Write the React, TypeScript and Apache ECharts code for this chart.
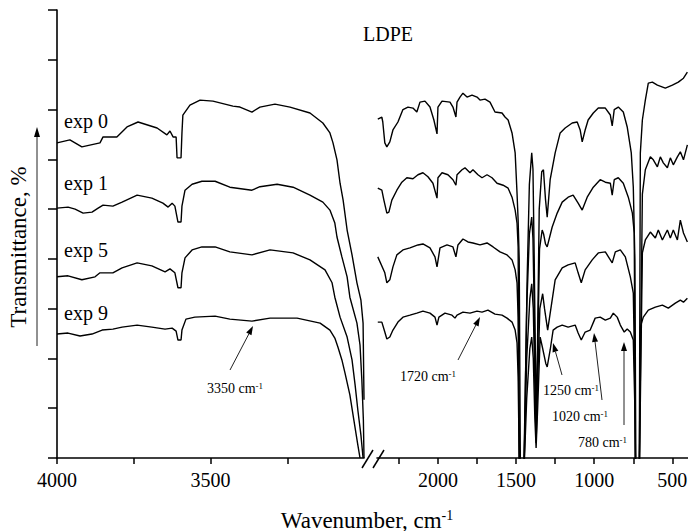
import React, { useEffect, useRef } from "react";
import * as echarts from "echarts";

// ---- data (wavenumber cm^-1, transmittance in tick units of 10) ----
const seriesNames = ["exp 0", "exp 1", "exp 5", "exp 9"];

const exp0Left = [
  [4000, 63.3], [3958, 63.9], [3919, 62.5], [3860, 63.3], [3850, 64.5], [3805, 64.5], [3772, 66.5], [3736, 67.5],
  [3674, 66.3], [3642, 64.9], [3632, 65.7], [3622, 64.5], [3612, 64.5], [3609, 60.3], [3596, 60.3], [3593, 65.3],
  [3590, 68.9], [3567, 70.9], [3534, 71.9], [3492, 71.7], [3427, 70.7], [3404, 70.5], [3365, 69.5], [3339, 70.5],
  [3290, 71.1], [3241, 70.5], [3176, 69.3], [3134, 67.3], [3111, 65.3], [3101, 63.3], [3088, 59.9], [3078, 55.2],
  [3068, 51.8], [3055, 45.8], [3039, 40.8], [3023, 35.2], [3010, 31.7], [3003, 27.1], [3000, 11.7],
];
const exp1Left = [
  [4000, 50.2], [3964, 50.4], [3941, 50.0], [3915, 49.2], [3886, 49.4], [3866, 50.2], [3850, 50.8], [3818, 50.6],
  [3788, 51.4], [3739, 52.8], [3691, 52.2], [3655, 51.2], [3638, 50.4], [3625, 51.2], [3616, 50.6], [3606, 47.4],
  [3596, 47.4], [3593, 50.6], [3583, 53.8], [3560, 55.0], [3528, 55.6], [3485, 55.6], [3437, 54.4], [3365, 53.8],
  [3339, 54.5], [3283, 55.0], [3231, 54.4], [3176, 52.8], [3134, 51.4], [3111, 49.8], [3095, 47.2], [3088, 44.4],
  [3072, 40.4], [3055, 36.4], [3046, 32.3], [3023, 27.1], [3013, 22.7], [3007, 15.7], [3002, 7.6], [3000, 0],
];
const exp5Left = [
  [4000, 36.4], [3964, 36.6], [3919, 35.8], [3876, 36.4], [3860, 37.2], [3818, 37.2], [3788, 38.2], [3739, 39.2],
  [3691, 38.6], [3648, 37.4], [3632, 38.0], [3616, 37.2], [3606, 34.2], [3596, 34.2], [3593, 37.2], [3583, 40.2],
  [3560, 41.8], [3528, 42.4], [3485, 42.4], [3437, 41.4], [3365, 40.8], [3306, 41.8], [3231, 41.2], [3176, 39.8],
  [3127, 37.8], [3104, 35.2], [3095, 32.3], [3078, 28.3], [3055, 24.3], [3039, 19.7], [3029, 14.7], [3020, 9.6],
  [3010, 4.6], [3003, 0],
];
const exp9Left = [
  [4000, 24.9], [3964, 25.1], [3925, 24.5], [3886, 24.9], [3853, 25.7], [3818, 25.9], [3788, 26.3], [3739, 26.7],
  [3691, 26.3], [3648, 25.9], [3625, 26.1], [3612, 25.5], [3606, 23.7], [3596, 23.7], [3593, 25.7], [3580, 27.9],
  [3551, 28.3], [3485, 28.5], [3437, 27.9], [3365, 27.5], [3306, 28.1], [3218, 28.1], [3143, 27.1], [3111, 25.7],
  [3095, 24.1], [3085, 22.3], [3072, 19.7], [3062, 17.1], [3046, 12.7], [3033, 7.6], [3020, 2.6], [3013, 0],
];

const exp0Right = [
  [2385, 68.1], [2359, 68.5], [2353, 67.5], [2340, 63.3], [2327, 62.5], [2308, 63.5], [2288, 65.9], [2256, 67.5],
  [2224, 70.0], [2192, 70.5], [2160, 70.3], [2135, 69.5], [2115, 71.5], [2083, 71.7], [2051, 70.5], [2026, 67.9],
  [2006, 65.1], [2000, 70.5], [1974, 71.7], [1923, 71.5], [1904, 70.5], [1885, 68.5], [1878, 71.5], [1859, 72.5],
  [1840, 73.3], [1814, 72.5], [1782, 72.9], [1750, 72.5], [1731, 71.9], [1699, 72.1], [1667, 71.5], [1635, 69.5],
  [1590, 69.3], [1571, 68.5], [1551, 67.9], [1526, 65.3], [1506, 61.3], [1494, 53.2], [1487, 47.8], [1480, 39.8],
  [1472, -5], [1450, -5], [1430, 35], [1415, 55], [1400, 61.3], [1392, 58], [1384, 40], [1372, 8], [1364, 20],
  [1352, 50], [1336, 57.5], [1325, 57.9], [1312, 52], [1301, 48.4], [1282, 55.9], [1250, 61.3], [1218, 65.3],
  [1186, 66.3], [1141, 67.3], [1109, 67.5], [1090, 65.9], [1077, 63.5], [1058, 65.9], [1039, 67.9], [1006, 69.3],
  [974, 70.3], [929, 70.3], [897, 68.9], [885, 66.7], [872, 70.0], [846, 70.5], [814, 69.5], [789, 66.5],
  [763, 61.3], [750, 54.4], [740, 40], [733, -5], [712, -5], [705, 61.3], [692, 67.9], [673, 71.9], [654, 75.3],
  [628, 75.5], [596, 74.9], [545, 74.3], [500, 74.9], [462, 75.5], [429, 76.3], [404, 77.5],
];
const exp1Right = [
  [2385, 54.2], [2359, 53.8], [2346, 51.8], [2327, 49.2], [2314, 49.4], [2295, 51.8], [2263, 53.8], [2231, 55.4],
  [2199, 56.3], [2160, 56.1], [2128, 56.9], [2096, 57.3], [2064, 56.5], [2032, 55.2], [2006, 52.2], [2000, 56.3],
  [1974, 57.3], [1936, 56.9], [1904, 55.9], [1885, 54.8], [1878, 56.9], [1846, 57.9], [1827, 58.3], [1795, 57.3],
  [1776, 57.9], [1744, 56.9], [1718, 56.3], [1686, 56.9], [1654, 56.3], [1622, 55.2], [1583, 54.8], [1551, 54.2],
  [1526, 52.4], [1506, 49.8], [1494, 47.2], [1487, 42.4], [1478, -5], [1452, -5], [1432, 30], [1415, 45],
  [1400, 48.4], [1392, 44], [1384, 30], [1372, 5], [1364, 18], [1350, 42], [1333, 45.8], [1324, 45], [1312, 43],
  [1301, 42.4], [1269, 46.4], [1237, 49.2], [1205, 51.4], [1167, 52.4], [1135, 52.8], [1103, 51.2], [1077, 49.8],
  [1045, 52.4], [1006, 54.4], [962, 55.9], [929, 55.4], [897, 55.2], [885, 52.8], [872, 55.9], [846, 56.3],
  [814, 55.2], [782, 52.4], [756, 49.2], [744, 45.2], [736, -5], [712, -5], [692, 53.0], [673, 57.9], [641, 60.5],
  [622, 59.9], [596, 58.5], [577, 60.5], [558, 59.3], [532, 58.3], [513, 60.3], [494, 58.9], [468, 60.5],
  [449, 61.5], [429, 59.9], [404, 62.9],
];
const exp5Right = [
  [2385, 40.4], [2340, 37.2], [2327, 35.2], [2308, 35.8], [2288, 38.4], [2263, 40.8], [2224, 41.8], [2179, 42.2],
  [2128, 42.8], [2096, 43.0], [2051, 42.2], [2019, 40.4], [2006, 38.4], [1987, 42.2], [1942, 42.8], [1904, 42.4],
  [1885, 40.4], [1872, 42.8], [1840, 44.0], [1808, 43.4], [1776, 43.2], [1731, 42.8], [1686, 43.2], [1647, 42.4],
  [1603, 41.4], [1558, 40.8], [1526, 39.8], [1506, 37.8], [1494, 35.2], [1487, 28.3], [1478, -5], [1452, -5],
  [1432, 20], [1412, 32], [1400, 35], [1390, 30], [1380, 15], [1372, 3], [1362, 15], [1348, 30], [1330, 33],
  [1318, 30], [1298, 25.7], [1250, 35.8], [1205, 38.2], [1167, 38.8], [1122, 39.2], [1103, 37.2], [1083, 35.2],
  [1058, 37.8], [1013, 39.8], [974, 41.2], [929, 41.4], [885, 39.2], [865, 41.4], [833, 41.8], [801, 40.4],
  [769, 36.4], [750, 33.1], [740, 15], [735, -5], [712, -5], [692, 41.2], [673, 43.8], [641, 45.4], [609, 44.2],
  [590, 45.8], [564, 43.8], [532, 45.8], [513, 44.2], [494, 45.8], [468, 43.8], [449, 47.8], [429, 45.2], [404, 43.4],
];
const exp9Right = [
  [2385, 27.3], [2359, 27.3], [2340, 25.3], [2327, 23.9], [2308, 24.3], [2288, 25.7], [2256, 27.3], [2224, 28.3],
  [2179, 28.7], [2135, 29.1], [2096, 29.5], [2051, 29.1], [2019, 28.3], [2006, 26.7], [1994, 28.3], [1955, 29.1],
  [1910, 28.7], [1891, 28.1], [1878, 28.7], [1840, 29.3], [1795, 29.1], [1750, 29.5], [1718, 29.3], [1680, 29.7],
  [1635, 28.9], [1590, 28.7], [1558, 28.1], [1526, 27.3], [1506, 25.7], [1494, 23.1], [1487, 16.3], [1478, -5],
  [1452, -5], [1432, 12], [1412, 22], [1400, 24.3], [1390, 20], [1380, 8], [1372, 2], [1362, 10], [1346, 24.3],
  [1330, 22], [1310, 19], [1301, 18.3], [1282, 21.7], [1263, 25.7], [1237, 26.3], [1205, 26.7], [1167, 26.3],
  [1122, 26.7], [1103, 25.1], [1083, 23.7], [1058, 25.3], [1026, 25.7], [994, 28.1], [962, 28.3], [929, 27.7],
  [897, 28.1], [878, 29.1], [853, 28.3], [833, 26.7], [808, 25.3], [789, 25.9], [769, 25.3], [750, 23.7],
  [740, 10], [735, -5], [712, -5], [705, 26.3], [686, 28.3], [654, 29.7], [609, 30.3], [564, 30.7], [526, 30.1],
  [481, 31.1], [449, 31.7], [429, 31.3], [404, 32.1],
];

const leftLabelTicks = [4000, 3500];
const leftAllTicks = [4000, 3750, 3500, 3250];
const rightLabelTicks = [2000, 1500, 1000, 500];
const rightAllTicks = [2250, 2000, 1750, 1500, 1250, 1000, 750, 500];
const bandNames = ["3350", "1720", "1250", "1020", "780"];

// ---- layout (pixels) ----
const FONT = '"Liberation Serif", "Times New Roman", serif';
const PLOT_H = 448;
const bandLayout = [
  { tx: 207, ty: 388, ax1: 230, ay1: 370, ax2: 253, ay2: 326 },
  { tx: 400, ty: 376, ax1: 458, ay1: 360, ax2: 480, ay2: 317 },
  { tx: 543, ty: 390, ax1: 562, ay1: 375, ax2: 553, ay2: 343 },
  { tx: 552, ty: 416, ax1: 602, ay1: 400, ax2: 594, ay2: 333 },
  { tx: 578, ty: 442, ax1: 624, ay1: 425, ax2: 624, ay2: 342 },
];
const expLabelY = [121, 183, 250, 313];

function arrow(x1: number, y1: number, x2: number, y2: number, len = 9, hw = 3, lw = 1) {
  const dx = x2 - x1, dy = y2 - y1;
  const L = Math.hypot(dx, dy);
  const ux = dx / L, uy = dy / L;
  const bx = x2 - ux * len, by = y2 - uy * len;
  return [
    { type: "line", shape: { x1, y1, x2: bx, y2: by }, style: { stroke: "#222", lineWidth: lw } },
    {
      type: "polygon",
      shape: { points: [[x2, y2], [bx - uy * hw, by + ux * hw], [bx + uy * hw, by - ux * hw]] },
      style: { fill: "#000" },
    },
  ];
}

export default function App() {
  const ref = useRef<HTMLDivElement>(null);
  useEffect(() => {
    if (!ref.current) return;
    const chart = echarts.init(ref.current, undefined, { renderer: "svg" });
    const lefts = [exp0Left, exp1Left, exp5Left, exp9Left];
    const rights = [exp0Right, exp1Right, exp5Right, exp9Right];
    const lineStyle = { color: "#000", width: 1.4 };
    const series: any[] = [];
    seriesNames.forEach((n, i) => {
      series.push({ name: n, type: "line", xAxisIndex: 0, yAxisIndex: 0, data: lefts[i], showSymbol: false, lineStyle, clip: true, silent: true });
      series.push({ name: n, type: "line", xAxisIndex: 1, yAxisIndex: 1, data: rights[i], showSymbol: false, lineStyle, clip: true, silent: true });
    });
    const axisText = { fontSize: 20, fontFamily: FONT, color: "#000", margin: 12, formatter: (v: number) => String(v) };
    const graphic: any[] = [];
    graphic.push({ type: "text", x: 388, y: 34, style: { text: "LDPE", fontSize: 20, fontFamily: FONT, fill: "#000", align: "center", verticalAlign: "middle" } });
    seriesNames.forEach((n, i) => {
      graphic.push({ type: "text", x: 64, y: expLabelY[i], style: { text: n, fontSize: 20, fontFamily: FONT, fill: "#000", align: "left", verticalAlign: "middle" } });
    });
    bandNames.forEach((b, i) => {
      const l = bandLayout[i];
      graphic.push({
        type: "text", x: l.tx, y: l.ty,
        style: {
          text: `{a|${b} cm}{s|-1}`, align: "left", verticalAlign: "middle", fill: "#000",
          rich: { a: { fontSize: 14, fontFamily: FONT, fill: "#000" }, s: { fontSize: 9, fontFamily: FONT, fill: "#000", verticalAlign: "top" } },
        },
      });
      graphic.push(...arrow(l.ax1, l.ay1, l.ax2, l.ay2));
    });
    // axis names
    graphic.push({
      type: "text", x: 367, y: 520,
      style: {
        text: "{a|Wavenumber, cm}{s|-1}", align: "center", verticalAlign: "middle", fill: "#000",
        rich: { a: { fontSize: 23, fontFamily: FONT, fill: "#000" }, s: { fontSize: 14, fontFamily: FONT, fill: "#000", verticalAlign: "top" } },
      },
    });
    graphic.push({
      type: "text", x: 18, y: 247, rotation: Math.PI / 2,
      style: { text: "Transmittance, %", fontSize: 23, fontFamily: FONT, fill: "#000", align: "center", verticalAlign: "middle" },
    });
    graphic.push(...arrow(37, 346, 37, 127, 10, 3, 1));
    // axis break marks
    graphic.push({ type: "line", shape: { x1: 362, y1: 468, x2: 373, y2: 450 }, style: { stroke: "#000", lineWidth: 1.5 } });
    graphic.push({ type: "line", shape: { x1: 373, y1: 468, x2: 384, y2: 450 }, style: { stroke: "#000", lineWidth: 1.5 } });

    const axisLine = { show: true, lineStyle: { color: "#000", width: 1.6 } };
    const tickStyle = { color: "#000", width: 1.5 };
    chart.setOption({
      animation: false,
      grid: [
        { left: 57, top: 10, width: 307, height: PLOT_H, containLabel: false, outerBoundsMode: "none" },
        { left: 377, top: 10, width: 311, height: PLOT_H, containLabel: false, outerBoundsMode: "none" },
      ],
      xAxis: [
        {
          type: "value", gridIndex: 0, position: "bottom", min: 3000, max: 4000, inverse: true, axisLine,
          axisTick: { show: true, customValues: leftAllTicks, length: 6, lineStyle: tickStyle },
          axisLabel: { ...axisText, customValues: leftLabelTicks },
          splitLine: { show: false },
        },
        {
          type: "value", gridIndex: 1, position: "bottom", min: 400, max: 2390, inverse: true, axisLine,
          axisTick: { show: true, customValues: rightAllTicks, length: 6, lineStyle: tickStyle },
          axisLabel: { ...axisText, customValues: rightLabelTicks },
          splitLine: { show: false },
        },
      ],
      yAxis: [
        {
          type: "value", gridIndex: 0, min: 0, max: 90, interval: 10, axisLine,
          axisTick: { show: true, length: 9, lineStyle: tickStyle },
          axisLabel: { show: false }, splitLine: { show: false },
        },
        { type: "value", gridIndex: 1, min: 0, max: 90, show: false, splitLine: { show: false } },
      ],
      series,
      graphic,
    });
    return () => chart.dispose();
  }, []);
  return <div ref={ref} style={{ position: "absolute", left: 0, top: 0, width: 688, height: 531 }} />;
}
